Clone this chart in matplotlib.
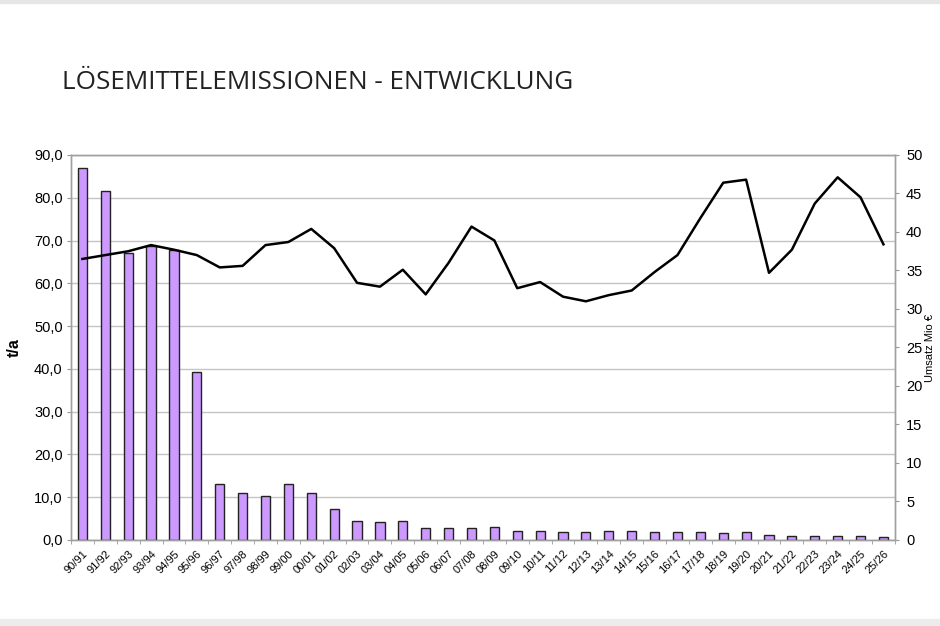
import numpy as np
import matplotlib
matplotlib.use("Agg")
import matplotlib.pyplot as plt
from matplotlib.ticker import FuncFormatter, MultipleLocator

# Geschaeftsjahre
years = ["90/91", "91/92", "92/93", "93/94", "94/95", "95/96", "96/97", "97/98",
         "98/99", "99/00", "00/01", "01/02", "02/03", "03/04", "04/05", "05/06",
         "06/07", "07/08", "08/09", "09/10", "10/11", "11/12", "12/13", "13/14",
         "14/15", "15/16", "16/17", "17/18", "18/19", "19/20", "20/21", "21/22",
         "22/23", "23/24", "24/25", "25/26"]

# Loesemittelemissionen in t/a (Balken, linke Achse)
emissions = [86.9, 81.7, 67.0, 68.7, 67.8, 39.3, 13.2, 10.9, 10.2, 13.0, 11.1,
             7.2, 4.4, 4.1, 4.4, 2.9, 2.9, 2.9, 3.1, 2.2, 2.2, 1.9, 1.9, 2.2,
             2.2, 1.9, 1.9, 1.9, 1.6, 1.9, 1.2, 0.9, 0.9, 0.9, 0.9, 0.6]

# Umsatz in Mio EUR (Linie, rechte Achse)
revenue = [36.5, 37.0, 37.5, 38.3, 37.7, 37.0, 35.4, 35.6, 38.3, 38.7, 40.4,
           37.9, 33.4, 32.9, 35.1, 31.9, 36.0, 40.7, 38.9, 32.7, 33.5, 31.6,
           31.0, 31.8, 32.4, 34.8, 37.0, 41.8, 46.4, 46.8, 34.7, 37.7, 43.7,
           47.1, 44.5, 38.4]

fig = plt.figure(figsize=(9.4, 6.26), dpi=100)
ax = fig.add_axes([0.0755, 0.1374, 0.8765, 0.615])
ax2 = ax.twinx()

x = np.arange(len(years))
ax.bar(x, emissions, width=0.4, color="#cc99ff", edgecolor="#222222",
       linewidth=1.0, zorder=3)
ax2.plot(x, revenue, color="black", linewidth=1.8, zorder=4)

ax.set_xlim(-0.5, len(years) - 0.5)
ax.set_ylim(0, 90)
ax2.set_ylim(0, 50)

ax.yaxis.set_major_locator(MultipleLocator(10))
ax.yaxis.set_major_formatter(FuncFormatter(lambda v, p: f"{v:.1f}".replace(".", ",")))
ax2.yaxis.set_major_locator(MultipleLocator(5))

ax.grid(axis="y", color="#c4c4c4", linewidth=1.0, zorder=0)
ax.set_axisbelow(True)

ax.set_xticks(x)
ax.set_xticklabels(years, rotation=45, ha="right", rotation_mode="anchor",
                   fontsize=8, family="Liberation Sans")
ax.set_xticks(np.arange(len(years) + 1) - 0.5, minor=True)
ax.tick_params(axis="x", which="major", length=0, pad=6)
ax.tick_params(axis="x", which="minor", length=3, color="#999999")

for a in (ax, ax2):
    for s in a.spines.values():
        s.set_color("#a0a0a0")
        s.set_linewidth(1.0)
ax.tick_params(axis="y", length=3, color="#999999", labelsize=10.5, pad=3)
ax2.tick_params(axis="y", length=3, color="#999999", labelsize=10.5, pad=5)
for lab in ax.get_yticklabels() + ax2.get_yticklabels():
    lab.set_family("Liberation Sans")

ax.set_ylabel("t/a", fontsize=11.5, fontweight="bold", family="Liberation Sans",
              labelpad=9)
ax2.set_ylabel("Umsatz Mio €", fontsize=8, family="Liberation Sans", labelpad=2)

fig.text(0.066, 0.858, "LÖSEMITTELEMISSIONEN - ENTWICKLUNG", fontsize=18.8,
         family="Open Sans", color="#222222", ha="left", va="baseline")

# graue Raender oben und unten
fig.patches.append(plt.Rectangle((0, 0.995), 1, 0.005, transform=fig.transFigure,
                                 color="#e6e6e6", zorder=0))
fig.patches.append(plt.Rectangle((0, 0), 1, 0.011, transform=fig.transFigure,
                                 color="#ececec", zorder=0))

fig.savefig("out.png", dpi=100)
